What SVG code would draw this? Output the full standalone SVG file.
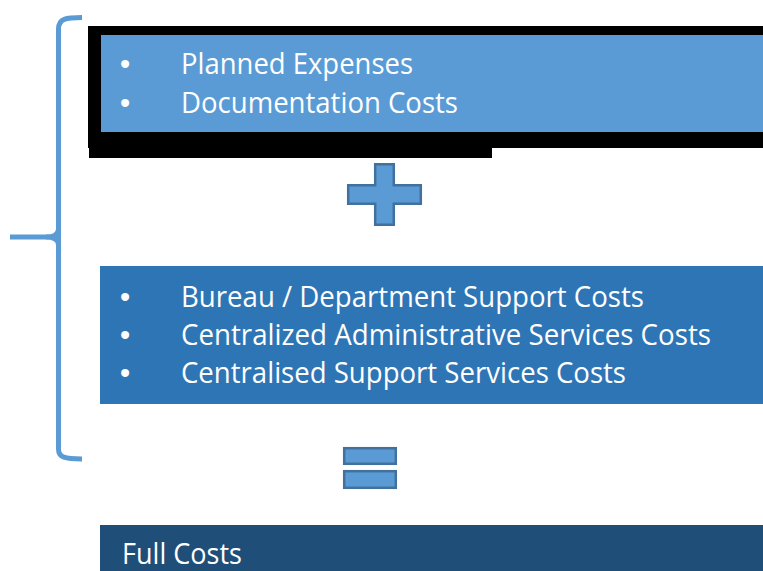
<svg xmlns="http://www.w3.org/2000/svg" width="763" height="571" viewBox="0 0 763 571">
  <style>
    .txt { font-family: "Open Sans", "Liberation Sans", sans-serif; font-size: 29px; fill: #ffffff; }
    .bul { font-family: "Liberation Sans", "Open Sans", sans-serif; font-size: 29px; fill: #ffffff; text-anchor: middle; }
    .sym { fill: #5B9BD5; stroke: #41719C; stroke-width: 2.5; }
    .brace { fill: none; stroke: #5B9BD5; stroke-width: 5; stroke-linecap: butt; }
  </style>

  <rect width="763" height="571" fill="#ffffff"/>

  <!-- left brace grouping the two cost blocks -->
  <g id="brace">
    <path class="brace" d="M82,17.5 C66,17.5 58.5,18.5 58.5,29 V449 C58.5,457.5 65,459 82,459"/>
    <path class="brace" d="M10,237 H46 C54,237 58.5,235 58.5,229"/>
    <path class="brace" d="M46,237 C54,237 58.5,239 58.5,245"/>
  </g>

  <!-- direct costs block -->
  <g id="direct-costs">
    <rect x="88" y="26" width="675" height="122" fill="#000000"/>
    <rect x="89" y="147" width="403" height="11" fill="#000000"/>
    <rect x="101" y="35" width="662" height="97" fill="#5B9BD5"/>
    <text class="bul" x="125" y="74">•</text>
    <text class="txt" x="181" y="74" textLength="232" lengthAdjust="spacingAndGlyphs">Planned Expenses</text>
    <text class="bul" x="125" y="113">•</text>
    <text class="txt" x="181" y="113" textLength="277" lengthAdjust="spacingAndGlyphs">Documentation Costs</text>
  </g>

  <!-- plus sign -->
  <g id="plus">
    <path class="sym" d="M375.2,164.2 H393.8 V185.2 H420.8 V203.8 H393.8 V224.8 H375.2 V203.8 H348.2 V185.2 H375.2 Z"/>
  </g>

  <!-- indirect costs block -->
  <g id="indirect-costs">
    <rect x="100" y="266" width="663" height="138" fill="#2E75B6"/>
    <text class="bul" x="125" y="307">•</text>
    <text class="txt" x="181" y="307" textLength="463" lengthAdjust="spacingAndGlyphs">Bureau / Department Support Costs</text>
    <text class="bul" x="125" y="345">•</text>
    <text class="txt" x="181" y="345" textLength="530" lengthAdjust="spacingAndGlyphs">Centralized Administrative Services Costs</text>
    <text class="bul" x="125" y="383">•</text>
    <text class="txt" x="181" y="383" textLength="445" lengthAdjust="spacingAndGlyphs">Centralised Support Services Costs</text>
  </g>

  <!-- equals sign -->
  <g id="equals">
    <rect class="sym" x="344.2" y="448.2" width="51.6" height="15.6"/>
    <rect class="sym" x="344.2" y="471.2" width="51.6" height="16.6"/>
  </g>

  <!-- result block -->
  <g id="full-costs">
    <rect x="100" y="525" width="663" height="46" fill="#1F4E79"/>
    <text class="txt" x="122" y="564" textLength="120" lengthAdjust="spacingAndGlyphs">Full Costs</text>
  </g>
</svg>
